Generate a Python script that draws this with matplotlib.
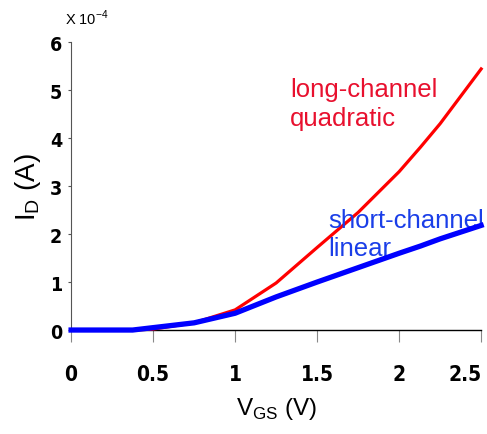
import numpy as np
import matplotlib.pyplot as plt

# datos (I_D en unidades de 1e-4 A)
vgs = [0, 0.25, 0.375, 0.5, 0.75, 1.0, 1.25, 1.5, 1.75, 2.0, 2.13, 2.25, 2.5]
id_long = [0, 0, 0, 0.02, 0.15, 0.42, 0.98, 1.72, 2.45, 3.3, 3.81, 4.3, 5.44]
id_short = [0, 0, 0, 0.05, 0.15, 0.35, 0.69, 1.0, 1.3, 1.6, 1.75, 1.9, 2.18]

xticks = [0, 0.5, 1, 1.5, 2, 2.5]
xticklabels = ['0', '0.5', '1', '1.5', '2', '2.5']
yticks = [0, 1, 2, 3, 4, 5, 6]

fig = plt.figure(figsize=(4.87, 4.35), dpi=100)
ax = fig.add_axes([0.146, 0.239, 0.842, 0.662])

ax.plot(vgs, id_long, color='#ff0000', lw=2.3, clip_on=False, zorder=3)
ax.plot(vgs, id_short, color='#0000ff', lw=3.8, clip_on=False, zorder=4)

ax.set_xlim(0, 2.5)
ax.set_ylim(0, 6)

for s in ['top', 'right']:
    ax.spines[s].set_visible(False)
ax.spines['left'].set_linewidth(0.8)
ax.spines['left'].set_color('#555555')
ax.spines['bottom'].set_linewidth(1.0)

narrow = ['Liberation Sans Narrow', 'DejaVu Sans Condensed', 'DejaVu Sans']
ax.set_xticks(xticks)
ax.set_xticklabels(xticklabels, family=narrow, weight='bold', size=15, stretch='condensed')
# la ultima etiqueta queda pegada al borde derecho
ax.get_xticklabels()[-1].set_horizontalalignment('right')
ax.get_xticklabels()[-1].set_x(2.52)
ax.set_yticks(yticks)
ax.set_yticklabels([str(v) for v in yticks], family=narrow, weight='bold', size=14,
                   stretch='condensed')
ax.tick_params(axis='x', direction='out', length=8.5, width=0.8, pad=16, color='#888888')
ax.tick_params(axis='y', direction='out', length=2.5, width=0.8, pad=4, color='#555555')

lab_font = dict(family=['Liberation Sans', 'DejaVu Sans'])
ax.set_xlabel('V$_{\\mathregular{GS}}$ (V)', labelpad=8, size=17.5, **lab_font)
ax.set_ylabel('I$_{\\mathregular{D}}$ (A)', labelpad=5, size=20, **lab_font)

fig.text(0.133, 0.958, 'X 10$^{\\mathregular{-4}}$', ha='left', va='center',
         family=['Liberation Sans', 'DejaVu Sans'], size=10.5)

ax.text(1.335, 4.72, 'long-channel\nquadratic', color='#e8102e', ha='left', va='center',
        family=['Liberation Sans', 'DejaVu Sans'], size=18.5, linespacing=1.22)
ax.text(1.567, 2.0, 'short-channel\nlinear', color='#1a3ee8', ha='left', va='center',
        family=['Liberation Sans', 'DejaVu Sans'], size=18.5, linespacing=1.22)

fig.savefig('out.png', dpi=100)
